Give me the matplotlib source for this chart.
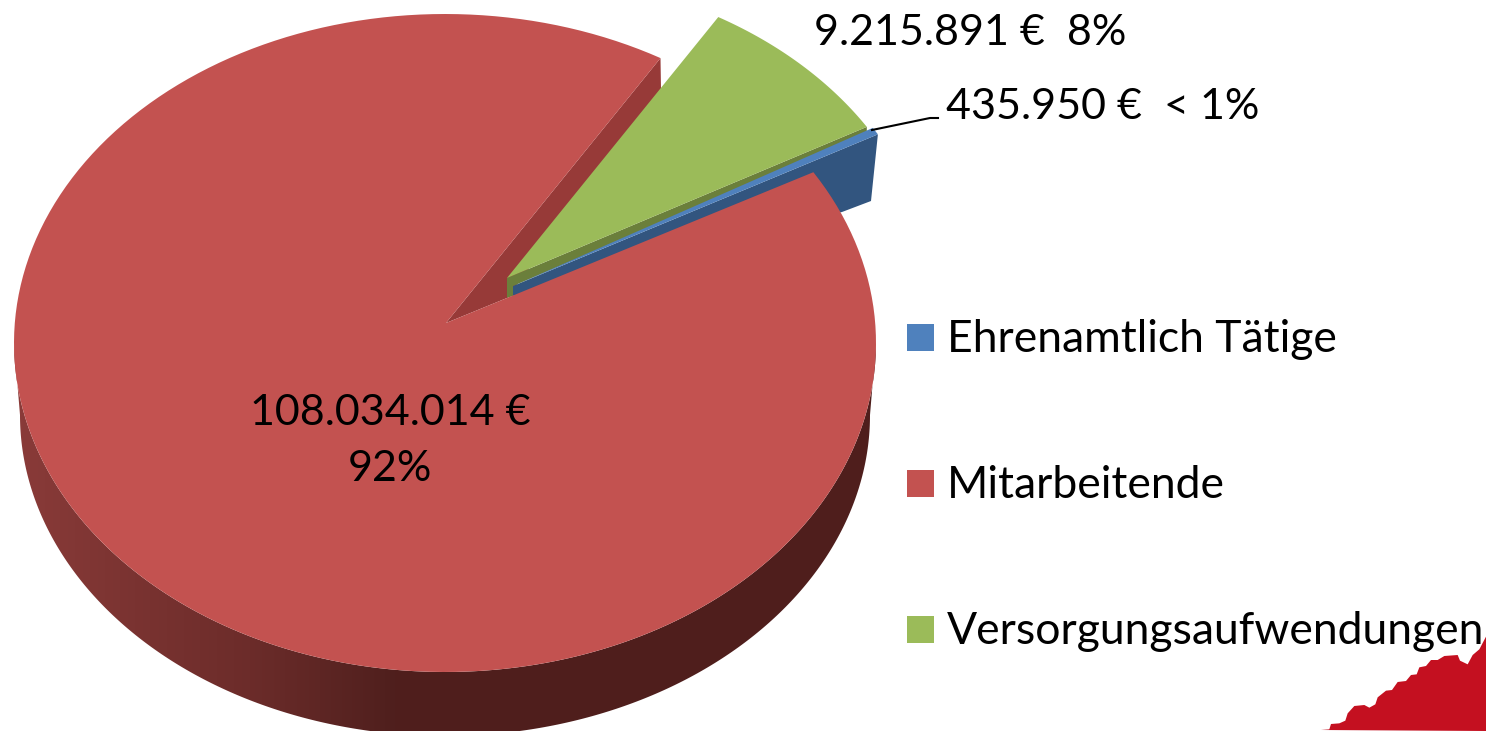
"""
Pie chart of personnel costs, drawn as a tilted 3D pie by hand
"""

import numpy as np
import matplotlib
matplotlib.use('Agg')
import matplotlib.pyplot as plt
from matplotlib.patches import Polygon, Rectangle, PathPatch
from matplotlib.path import Path

categories = ['Ehrenamtlich Tätige', 'Mitarbeitende', 'Versorgungsaufwendungen']
values = [435950, 108034014, 9215891]
value_labels = ['435.950 €  < 1%', '108.034.014 €\n92%', '9.215.891 €  8%']

top_colors = ['#4F81BD', '#C35250', '#9BBB59']
wall_colors = ['#32557F', '#973A38', '#6B7F3B']
splash_color = '#C41020'

plt.rcParams['font.family'] = ['Lato', 'DejaVu Sans']

# top face and lower rim as ellipses, in image pixels
cx, cy, rx, ry = 445, 343, 431, 329
low_cx, low_cy, low_rx, low_ry = 445, 415, 425, 321
apex = np.array([446.0, 323.0])
start_angle = 60.0
red_gap = 0.8
explode_scale = 0.985


def rim(theta):
    t = np.radians(theta)
    return np.column_stack([cx + rx * np.cos(t), cy - ry * np.sin(t)])


def low_rim(theta):
    t = np.radians(theta)
    return np.column_stack([low_cx + low_rx * np.cos(t), low_cy - low_ry * np.sin(t)])


def wedge(a1, a2, new_apex=None, scale=1.0):
    """Top face of a slice going from angle a1 to a2"""
    pts = rim(np.linspace(a1, a2, 200))
    if new_apex is None:
        return np.vstack([apex, pts])
    pts = new_apex + (pts - apex) * scale
    return np.vstack([new_apex, pts])


# slice angles come from the values, clockwise from the start angle
total = sum(values)
green_sweep = 360 * values[2] / total
blue_sweep = 360 * values[0] / total
green_end = start_angle - green_sweep
blue_end = green_end - blue_sweep

green_apex = np.array([507.0, 278.0])
blue_apex = np.array([513.0, 279.0])

fig = plt.figure(figsize=(14.86, 7.31), dpi=100)
ax = fig.add_axes([0, 0, 1, 1])

# outer side of the pie, dark on the right and lighter to the left
side_pts = np.vstack([rim(np.linspace(180, 360, 300)), low_rim(np.linspace(360, 180, 300))])
side_path = Path(np.vstack([side_pts, side_pts[:1]]), closed=True)
grad_x = np.array([0, 60, 150, 250, 320, 395, 1486]) / 1486
grad_r = np.array([0x8C, 0x84, 0x78, 0x6C, 0x5E, 0x4F, 0x4F]) / 255
grad_g = np.array([0x3C, 0x38, 0x32, 0x2C, 0x26, 0x1F, 0x1E]) / 255
grad_b = np.array([0x3A, 0x36, 0x30, 0x2A, 0x24, 0x1D, 0x1C]) / 255
xs = np.linspace(0, 1, 1486)
grad = np.dstack([np.interp(xs, grad_x, grad_r), np.interp(xs, grad_x, grad_g),
                  np.interp(xs, grad_x, grad_b)])
im = ax.imshow(grad, extent=[0, 1486, 731, 0], aspect='auto', zorder=1)
im.set_clip_path(PathPatch(side_path, transform=ax.transData))
ax.set_xlim(0, 1486)
ax.set_ylim(731, 0)
ax.axis('off')

# cut walls
red_top = wedge(start_angle, blue_end + red_gap + 360)
ax.add_patch(Polygon([apex, red_top[1], (661, 89), (507, 298)],
                     fc=wall_colors[1], ec='none', zorder=2))
blue_top = wedge(green_end, blue_end, blue_apex, explode_scale)
blue_top[0] = (513, 286)
ax.add_patch(Polygon([blue_top[0], blue_top[-1], (871, 201), (842, 212), (513, 296)],
                     fc=wall_colors[0], ec='none', zorder=2))
green_top = wedge(start_angle, green_end, green_apex, explode_scale)
ax.add_patch(Polygon([green_apex, green_top[-1], green_top[-1] + (0, 8), (513, 286), (513, 296), (507, 298)],
                     fc=wall_colors[2], ec='none', zorder=3))

# top faces
ax.add_patch(Polygon(green_top, fc=top_colors[2], ec='none', zorder=4))
ax.add_patch(Polygon(blue_top, fc=top_colors[0], ec='none', zorder=4))
ax.add_patch(Polygon(red_top, fc=top_colors[1], ec='none', zorder=5))

# value labels and the leader line of the small slice
ax.plot([872, 930, 938], [130, 118, 118], color='black', lw=1.5, zorder=6)
ax.text(1103, 107, value_labels[0], fontsize=31, ha='center', va='center', color='black', zorder=7)
ax.text(390, 441, value_labels[1], fontsize=31, ha='center', va='center', color='black',
        linespacing=1.6, zorder=7)
ax.text(970, 33, value_labels[2], fontsize=31, ha='center', va='center', color='black', zorder=7)

# legend
legend_y = [337.5, 483.5, 629.5]
for name, col, y in zip(categories, top_colors, legend_y):
    ax.add_patch(Rectangle((907, y - 13.5), 27, 27, fc=col, ec='none'))
    ax.text(947, y + 2, name, fontsize=32, ha='left', va='center', color='black', zorder=7)

# red shape in the corner
splash_x = [105, 130, 135, 160, 178, 185, 205, 235, 250, 268, 275, 300, 318, 335, 360, 375,
            392, 400, 420, 435, 455, 475, 515, 522, 545, 560, 580, 600, 600]
splash_y = [360, 358, 342, 340, 332, 310, 288, 285, 293, 283, 262, 242, 240, 216, 213, 195,
            193, 172, 168, 150, 150, 138, 135, 152, 163, 135, 118, 80, 363]
splash = np.column_stack([1286 + np.array(splash_x) / 3, 610 + np.array(splash_y) / 3])
ax.add_patch(Polygon(splash, fc=splash_color, ec='none', zorder=3))

plt.savefig('out.png', dpi=100)
plt.close()
